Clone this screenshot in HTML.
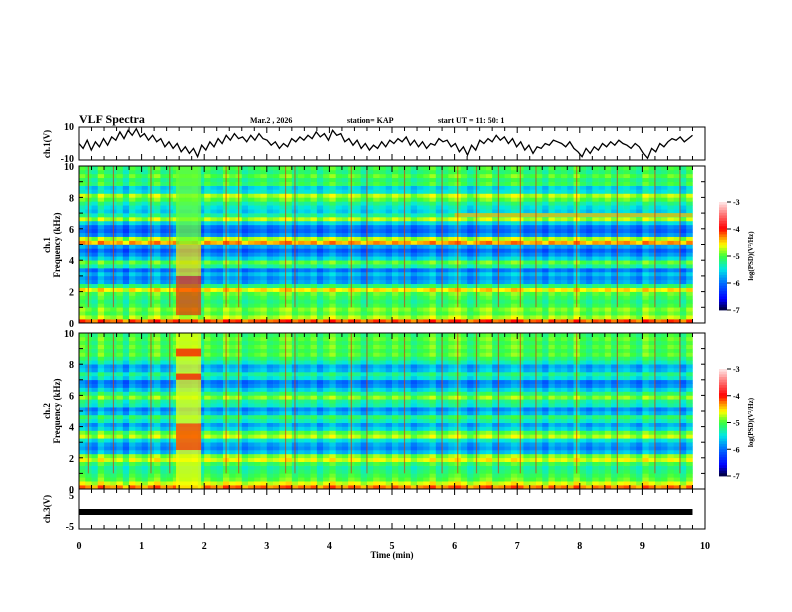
<!DOCTYPE html>
<html><head><meta charset="utf-8">
<style>
body{margin:0;background:#fff;}
svg{display:block;font-family:"Liberation Serif",serif;font-weight:bold;}
</style></head>
<body>
<svg id="chart" width="792" height="612" viewBox="0 0 792 612" xmlns="http://www.w3.org/2000/svg">
<text x="79" y="123" font-size="12">VLF Spectra</text>
<text x="250" y="123" font-size="8">Mar.2 , 2026</text>
<text x="347" y="123" font-size="8">station= KAP</text>
<text x="438" y="123" font-size="8">start UT =  11: 50: 1</text>
<g id="layer"></g>
</svg>
<script>
// ---- data ----
const timeMin = 0, timeMax = 10, dataEnd = 9.8;
const ch1Wave = [0,-3,2,-4,1,-2,3,-1,4,2,7,3,8,5,9,4,6,2,5,1,3,-2,1,-3,0,-5,-2,-6,-3,-8,-1,-4,1,-2,3,0,5,2,6,3,4,1,5,2,6,3,2,-1,1,-3,0,-2,3,1,4,2,5,3,7,4,6,2,8,5,6,1,3,-1,2,-3,0,-4,-1,-3,1,-2,2,0,3,1,4,-1,2,-2,1,-3,0,-1,3,1,2,-2,0,-5,-2,-7,-1,-4,2,0,3,1,5,2,4,0,3,-2,1,-4,-1,-6,-2,-3,0,-1,2,1,0,-2,1,-3,-5,-8,-3,-6,-2,-4,0,-2,1,-1,2,0,-1,-3,0,-2,-6,-9,-3,-5,0,-2,1,3,2,4,1,3,5];
const ch3Value = 0;
const rows1 = [-4.2,-4.8,-5.0,-4.9,-5.1,-5.2,-5.1,-5.0,-4.6,-5.2,-5.8,-5.9,-5.7,-6.0,-5.3,-5.0,-5.6,-5.9,-6.1,-5.8,-4.4,-4.8,-5.9,-6.1,-6.0,-5.6,-4.8,-5.3,-5.6,-5.5,-5.3,-5.0,-4.8,-5.5,-5.6,-5.1,-5.2,-5.0,-5.2,-5.1];
const rows2 = [-4.3,-4.7,-5.0,-5.1,-5.2,-5.3,-5.1,-4.7,-4.9,-5.7,-5.9,-5.8,-5.5,-4.8,-5.0,-5.6,-5.8,-5.4,-5.2,-5.7,-5.9,-5.4,-5.3,-4.9,-5.2,-5.6,-5.9,-6.0,-5.5,-5.3,-5.7,-5.8,-5.4,-5.2,-5.0,-5.1,-5.0,-5.1,-5.0,-5.1];
const colOffsets = [0.2,0,-0.2,0.3,0,-0.1,0.1,-0.3,0.2,0,-0.2,0.1,0.3,-0.1,0,0.2,0,0,0.1,-0.2,0.2,0,-0.1,0.3,0.1,0.2,-0.2,0,0.1,0.2,-0.1,0,0.2,0.3,-0.1,0.1,0,0.2,-0.2,0.1,0.3,0,-0.1,0.2,0.1,-0.2,0,0.2,0.1,-0.1,0.2,0,0.1,-0.2,0,0.1,0.3,-0.1,0,0.2,0.3,0.1,-0.2,0,0.2,0.3,-0.1,0,0.1,0.3,0.2,-0.1,0,0.1,-0.2,0.2,0,0.1,-0.1,0.3,0,-0.2,0.1,0,0.2,-0.1,0.1,0.2,0,-0.2,0.3,0.1,-0.1,0,0.2,0.1,-0.2,0.2];
const streakTimes = [0.15,0.55,1.15,1.45,2.35,2.55,3.3,3.45,4.35,4.6,5.2,5.8,6.05,6.35,6.7,7.05,7.3,7.95,8.6,9.2,9.6];
const burst1 = [[1.55,1.95,0.5,3.0,-4.1],[1.55,1.95,3.0,5.0,-4.5],[1.55,1.95,5.0,10,-4.9]];
const burst2 = [[1.55,1.95,0,10,-4.6],[1.55,1.95,8.5,9.0,-4.0],[1.55,1.95,7.0,7.4,-4.0],[1.55,1.95,2.5,4.2,-4.1]];
const hlines1 = [[6.0,9.8,6.75,7.0,-4.4]];
const hlines2 = [];
const cbTicks = [-3,-4,-5,-6,-7];
const freqTicks = [0,2,4,6,8,10];
const timeTicks = [0,1,2,3,4,5,6,7,8,9,10];

// ---- layout ----
const X0 = 79, X1 = 705;
const xs = t => X0 + (t - timeMin) / (timeMax - timeMin) * (X1 - X0);
const P = {w:[127,160], s1:[166,323], s2:[333,489], c3:[489,529]};
const NS = "http://www.w3.org/2000/svg";
const layer = document.getElementById('layer');
function mk(tag, attrs, parent){const e=document.createElementNS(NS,tag);for(const k in attrs)e.setAttribute(k,attrs[k]);(parent||layer).appendChild(e);return e;}
const stops=[[-7,[0,0,50]],[-6.6,[0,0,255]],[-6,[0,110,255]],[-5.5,[0,230,230]],[-5,[60,255,60]],[-4.6,[255,255,0]],[-4.3,[255,140,0]],[-4,[255,0,0]],[-3.5,[255,110,110]],[-3,[255,235,235]]];
function cmap(v){v=Math.max(-7,Math.min(-3,v));for(let i=1;i<stops.length;i++){if(v<=stops[i][0]){const a=stops[i-1],b=stops[i],f=(v-a[0])/(b[0]-a[0]);return 'rgb('+a[1].map((c,k)=>Math.round(c+(b[1][k]-c)*f)).join(',')+')';}}return 'rgb(255,235,235)';}

function spectro(name, pr, rows, bursts, hl){
  const g = mk('g',{});
  
  
  const fy = f => pr[1] - f/10*(pr[1]-pr[0]);
  const rh = 10/rows.length;
  for(let j=0;j<colOffsets.length;j++){
    const t0=j*0.1, t1=Math.min(dataEnd,(j+1)*0.1);
    for(let i=0;i<rows.length;i++){
      const r = mk('rect',{x:xs(t0),y:fy((i+1)*rh),width:xs(t1)-xs(t0)+0.3,height:fy(i*rh)-fy((i+1)*rh)+0.3,fill:cmap(rows[i]+0.7*colOffsets[j])},g);
      
      
    }
  }
  for(const b of hl.concat(bursts)){
    const r = mk('rect',{x:xs(b[0]),y:fy(b[3]),width:xs(b[1])-xs(b[0]),height:fy(b[2])-fy(b[3]),fill:cmap(b[4]),opacity:0.7},g);
    
    
  }
  for(const t of streakTimes){
    const l = mk('line',{x1:xs(t),x2:xs(t),y1:pr[0],y2:fy(1),stroke:'#e03000','stroke-width':1.2,opacity:0.6},g);
    
    
  }
}
spectro('ch1-spectrogram', P.s1, rows1, burst1, hlines1);
spectro('ch2-spectrogram', P.s2, rows2, burst2, hlines2);

// waveform
const wy = v => P.w[0] + (10 - v)/20*(P.w[1]-P.w[0]);
let d='';
ch1Wave.forEach((v,i)=>{const t=i*dataEnd/(ch1Wave.length-1);d+=(i?'L':'M')+xs(t).toFixed(1)+','+wy(v).toFixed(1);});
const wp = mk('path',{d:d,fill:'none',stroke:'#000','stroke-width':1.3});


const cy = v => P.c3[0] + 9 + (5 - v)/10*(P.c3[1]-P.c3[0]-12);
const c3 = mk('rect',{x:X0,y:cy(ch3Value)-3,width:xs(dataEnd)-X0,height:6,fill:'#000'});



// frames & ticks
function frame(name, pr){
  const r = mk('rect',{x:X0,y:pr[0],width:X1-X0,height:pr[1]-pr[0],fill:'none',stroke:'#000','stroke-width':1});
  
  
  for(let k=0;k<=50;k++){const t=k*0.2,x=xs(t),len=(k%5==0)?6:4;
    mk('line',{x1:x,x2:x,y1:pr[0],y2:pr[0]+len,stroke:'#000'});
    mk('line',{x1:x,x2:x,y1:pr[1],y2:pr[1]-len,stroke:'#000'});}
}
frame('ch1-wave-frame',P.w); frame('ch1-spec-frame',P.s1); frame('ch2-spec-frame',P.s2); frame('ch3-frame',P.c3);
function yAxis(pr, ticks, lo, hi, minor, prefix){
  const fy = v => pr[1] - (v-lo)/(hi-lo)*(pr[1]-pr[0]);
  for(let v=lo; v<=hi+1e-6; v+=minor){const y=fy(v);mk('line',{x1:X0,x2:X0+4,y1:y,y2:y,stroke:'#000'});mk('line',{x1:X1,x2:X1-4,y1:y,y2:y,stroke:'#000'});}
  ticks.forEach(v=>{const y=fy(v);
    const t=mk('text',{x:X0-5,y:y+4,'font-size':10,'text-anchor':'end'});t.textContent=String(v);
    
    });
}
yAxis(P.s1,freqTicks,0,10,1,'ch1-freq');
yAxis(P.s2,freqTicks,0,10,1,'ch2-freq');
[[10,P.w[0]+3],[-10,P.w[1]+2]].forEach(a=>{const t=mk('text',{x:X0-5,y:a[1],'font-size':10,'text-anchor':'end'});t.textContent=a[0];});
[[5,P.c3[0]+10],[-5,P.c3[1]+1]].forEach(a=>{const t=mk('text',{x:X0-5,y:a[1],'font-size':10,'text-anchor':'end'});t.textContent=a[0];});
timeTicks.forEach(v=>{const t=mk('text',{x:xs(v),y:549,'font-size':10,'text-anchor':'middle'});t.textContent=v;
  
  });
function vtext(name,x,y,s,txt){const t=mk('text',{x:0,y:0,'font-size':s,'text-anchor':'middle',transform:'translate('+x+','+y+') rotate(-90)'});t.textContent=txt;return t;}
const xt=mk('text',{x:392,y:558,'font-size':9,'text-anchor':'middle'});xt.textContent='Time  (min)';


vtext('ch1-volt-title',50,144,9,'ch.1(V)');
vtext('ch3-volt-title',50,509,9,'ch.3(V)');
vtext('ch1-freq-title-a',50,245,9,'ch.1');
vtext('ch1-freq-title-b',60,245,9,'Frequency  (kHz)');
vtext('ch2-freq-title-a',50,411,9,'ch.2');
vtext('ch2-freq-title-b',60,411,9,'Frequency  (kHz)');

// colorbars
function colorbar(name, y0, y1){
  const g=mk('g',{});
  
  
  const n=40;
  for(let k=0;k<n;k++){const v=-3-4*(k+0.5)/n;mk('rect',{x:719,y:y0+(y1-y0)*k/n,width:8,height:(y1-y0)/n+0.4,fill:cmap(v)},g);}
  cbTicks.forEach(v=>{const y=y0+(-3-v)/4*(y1-y0);mk('line',{x1:727,x2:731,y1:y,y2:y,stroke:'#000'},g);
    const t=mk('text',{x:733,y:y+3,'font-size':8},g);t.textContent=String(v);
    
    });
  const t=mk('text',{x:0,y:0,'font-size':7,'text-anchor':'middle',transform:'translate(753,'+((y0+y1)/2)+') rotate(-90)'},g);
  t.textContent='log(PSD)(V\u00B2/Hz)';
  
  
}
colorbar('ch1-colorbar',202,310);
colorbar('ch2-colorbar',369,476);
</script>
</body></html>
